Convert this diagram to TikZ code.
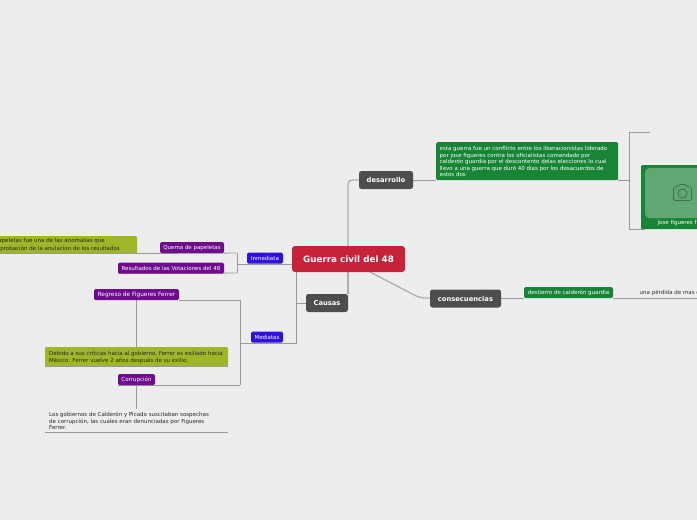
\documentclass[tikz,border=0pt]{standalone}
\usepackage{fontspec}
\setmainfont{DejaVu Sans}
\definecolor{bgc}{HTML}{EDEDED}
\definecolor{redc}{HTML}{C8213A}
\definecolor{darkc}{HTML}{4D4D4D}
\definecolor{greenc}{HTML}{178535}
\definecolor{bluec}{HTML}{3311DD}
\definecolor{purplec}{HTML}{6F0C8E}
\definecolor{olivec}{HTML}{A1B52B}
\definecolor{linec}{HTML}{9A9A9A}
\definecolor{photoc}{HTML}{5FA873}
\definecolor{iconc}{HTML}{3F6F4D}
\tikzset{
  x=1pt,y=-1pt,
  box/.style={rounded corners=1.5pt,inner sep=0pt,align=center,text=white,anchor=center},
  mainbox/.style={box,fill=redc,rounded corners=3pt,font=\bfseries\fontsize{8.8}{10}\selectfont},
  darkbox/.style={box,fill=darkc,rounded corners=2.5pt,font=\bfseries\fontsize{6.75}{8}\selectfont},
  bluebox/.style={box,fill=bluec,font=\fontsize{5.5}{6}\selectfont},
  purplebox/.style={box,fill=purplec,font=\fontsize{5.5}{6}\selectfont},
  greenbox/.style={box,fill=greenc,font=\fontsize{5.5}{6}\selectfont},
  olivebox/.style={rounded corners=1pt,fill=olivec,inner sep=0pt},
  darktext/.style={inner sep=0pt,text=black!85,font=\fontsize{5.5}{7.4}\selectfont},
  plain/.style={inner sep=0pt,text=black!85,font=\fontsize{5.5}{6.6}\selectfont,align=left},
  conn/.style={draw=linec,line width=0.9pt},
  thick conn/.style={draw=linec!80,line width=1.3pt},
}
\begin{document}
\begin{tikzpicture}
\useasboundingbox (0,0) rectangle (697,520);
\clip (0,0) rectangle (697,520);
\fill[bgc] (0,0) rectangle (697,520);

% junction coordinates
\coordinate (jup) at (348,246);
\coordinate (jleft) at (296,272);
\coordinate (jcausas) at (296,303);
\coordinate (jmed) at (296,343);
\coordinate (jimm) at (237,264);
\coordinate (jimmtop) at (237,253);
\coordinate (jimmbot) at (237,273);
\coordinate (jbrtop) at (240,300);
\coordinate (jbrmid) at (240,343);
\coordinate (jbrbot) at (240,385);
\coordinate (jphotoA) at (629,132);
\coordinate (jphotoB) at (629,229);
\coordinate (jphotoM) at (629,180);
\coordinate (jtop) at (650,132);
\coordinate (jbot) at (645,229);
\coordinate (jreg) at (136.5,300);
\coordinate (jole) at (136.5,347);
\coordinate (jcor) at (136.5,385);
\coordinate (jtxt) at (136.5,409);
\coordinate (jconsA) at (370,272);
\coordinate (jend) at (697,298);
\coordinate (jul1) at (45,432.5);
\coordinate (jul2) at (228,432.5);
\coordinate (joleA) at (0,253.5);
\coordinate (joleB) at (137,253.5);
\coordinate (jol2A) at (45,366.5);
\coordinate (jol2B) at (228,366.5);

% connectors drawn below the nodes
\draw[thick conn,rounded corners=4pt] (jup) -- (348,180) -- (359,180) coordinate (jdes);
\draw[thick conn] (348,272) -- (348,294);
\draw[thick conn,rounded corners=5pt] (jconsA) -- (420,298) -- (430,298);
\draw[conn] (jleft) -- (jmed) -- (jbrmid);
\draw[conn] (jcausas) -- (306,303);
\draw[conn] (292,264) -- (jimm);
\draw[conn] (jimmtop) -- (jimmbot);
\draw[conn] (joleB) -- (jimmtop);
\draw[conn] (118,273.5) -- (jimmbot);
\draw[conn] (jbrtop) -- (jbrbot);
\draw[conn] (179,300) -- (jbrtop);
\draw[conn] (118,385) -- (jbrbot);
\draw[conn] (jreg) -- (jole);
\draw[conn] (jcor) -- (jtxt);
\draw[conn] (413,180) -- (436,180);
\draw[conn] (618,180) -- (jphotoM);
\draw[conn] (jphotoA) -- (jphotoB);
\draw[conn] (jphotoA) -- (jtop);
\draw[conn] (jphotoB) -- (jbot);
\draw[conn] (501,298) -- (524,298);
\draw[conn] (613,298) -- (jend);
\draw[conn] (joleA) -- (joleB);
\draw[conn] (jol2A) -- (jol2B);
\draw[conn] (jul1) -- (jul2);

% main and topics
\node[mainbox,minimum width=113pt,minimum height=26pt] (main) at (348.5,259) {Guerra civil del 48};
\node[darkbox,minimum width=54pt,minimum height=18pt] (desarrollo) at (386,180) {desarrollo};
\node[darkbox,minimum width=42pt,minimum height=18pt] (causas) at (327,303) {Causas};
\node[darkbox,minimum width=71pt,minimum height=18pt] (consec) at (465.5,298.5) {consecuencias};

% right side
\node[greenbox,minimum width=182pt,minimum height=38pt,anchor=north west] (desc) at (436,142) {};
\node[anchor=north west,inner sep=0pt,text=white,font=\fontsize{5.5}{6.6}\selectfont,align=left] (desctxt) at (439.5,146.2)
 {esta guerra fue un conflicto entre los liberacionistas  liderado\\
  por jose figueres contra los oficialistas comandado por\\
  calderón guardia por el descontento delas elecciones lo cual\\
  llevo a una guerra que duró 40 dias por los desacuerdos de\\
  estos dos};
\node[box,fill=greenc,rounded corners=1pt,minimum width=70pt,minimum height=64pt,anchor=north west] (photo) at (641,165) {};
\node[rounded corners=4pt,fill=photoc,inner sep=0pt,minimum width=70pt,minimum height=50pt,anchor=north west] (photoin) at (645,168) {};
\draw[iconc,line width=0.8pt,rounded corners=1.5pt] (673.5,187) -- (677.5,187) -- (679,184.5) -- (686,184.5) -- (687.5,187) -- (691.5,187) -- (691.5,200.5) -- (673.5,200.5) -- cycle;
\draw[iconc,line width=0.8pt] (682.5,193.5) circle (4.6pt);
\node[anchor=west,inner sep=0pt,text=white,font=\fontsize{5.5}{6}\selectfont] (phototxt) at (657.5,223) {jose figueres f};
\node[greenbox,minimum width=89pt,minimum height=11pt] (destierro) at (568.5,292.5) {destierro de calderón guardia};
\node[anchor=west,inner sep=0pt,text=black!80,font=\fontsize{5.5}{6}\selectfont] (perdida) at (639.5,293) {una pérdida de mas de};

% left side
\node[bluebox,minimum width=36pt,minimum height=11pt] (inmediata) at (265,258) {Inmediata};
\node[bluebox,minimum width=32pt,minimum height=11pt] (mediatas) at (267,337) {Mediatas};
\node[purplebox,minimum width=64pt,minimum height=11pt] (quema) at (192,247.5) {Quema de papeletas};
\node[purplebox,minimum width=106pt,minimum height=11pt] (result) at (171,268) {Resultados de las Votaciones del 48};
\node[purplebox,minimum width=85pt,minimum height=11pt,font=\fontsize{5.8}{6}\selectfont] (regreso) at (136.5,294.5) {Regreso de Figueres Ferrer};
\node[purplebox,minimum width=37pt,minimum height=11pt] (corrup) at (136.5,379.5) {Corrupción};

\node[olivebox,minimum width=147pt,minimum height=17pt,anchor=north west] (olive1) at (-10,236) {};
\node[darktext,font=\fontsize{5.5}{8}\selectfont,align=right,anchor=north east] (olive1t) at (120,237.8)
 {papeletas fue una de las anomalias que\hspace*{15pt}\\aprobación de la anulacion de los resultados};
\node[olivebox,minimum width=183pt,minimum height=19pt,anchor=north west] (olive2) at (45,347) {};
\node[darktext,align=left,anchor=north west] (olive2t) at (49,350.4)
 {Debido a sus críticas hacia al gobierno, Ferrer es exiliado hacia\\México. Ferrer vuelve 2 años después de su exilio.};
\node[plain,anchor=north west] (corrtxt) at (49,411.8)
 {Los gobiernos de Calderón y Picado suscitaban sospechas\\de corrupción, las cuales eran denunciadas por Figueres\\Ferrer.};
\end{tikzpicture}
\end{document}
